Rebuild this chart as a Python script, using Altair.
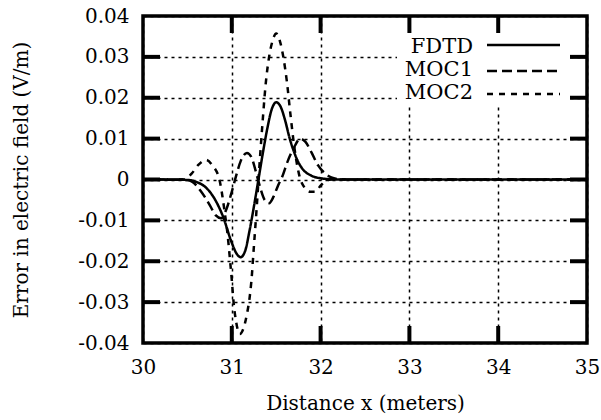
import altair as alt
import pandas as pd

# ---- data ----
fdtd_x = [30.0, 30.5, 30.6, 30.7, 30.8, 30.9, 31.0, 31.05, 31.1, 31.15, 31.2, 31.25, 31.3,
          31.35, 31.4, 31.45, 31.5, 31.55, 31.6, 31.65, 31.7, 31.75, 31.8, 31.9, 32.0, 32.1, 32.2, 35.0]
fdtd_y = [0.0, -0.0001, -0.0006, -0.0018, -0.0045, -0.009, -0.0155, -0.018, -0.019, -0.0175, -0.0125,
          -0.0065, 0.0, 0.0065, 0.0125, 0.0172, 0.0189, 0.0178, 0.0145, 0.0102, 0.0068, 0.0042,
          0.0025, 0.0009, 0.0003, 0.0001, 0.0, 0.0]

moc1_x = [30.0, 30.45, 30.55, 30.65, 30.75, 30.82, 30.88, 30.94, 31.0, 31.05, 31.1, 31.17, 31.22,
          31.27, 31.32, 31.37, 31.42, 31.47, 31.52, 31.57, 31.63, 31.7, 31.77, 31.83, 31.9, 31.97,
          32.05, 32.12, 32.2, 32.3, 35.0]
moc1_y = [0.0, 0.0, -0.0005, -0.0028, -0.0062, -0.0088, -0.0095, -0.0072, -0.003, 0.001, 0.0045,
          0.0065, 0.0055, 0.002, -0.002, -0.005, -0.0058, -0.0042, -0.0015, 0.0008, 0.0045, 0.0078,
          0.0100, 0.0092, 0.0065, 0.0035, 0.0015, 0.0005, 0.0001, 0.0, 0.0]

moc2_x = [30.0, 30.45, 30.55, 30.62, 30.71, 30.78, 30.86, 30.92, 30.95, 30.98, 31.0, 31.02, 31.05,
          31.09, 31.13, 31.17, 31.2, 31.22, 31.25, 31.28, 31.31, 31.35, 31.38, 31.42, 31.46, 31.5,
          31.54, 31.58, 31.62, 31.66, 31.71, 31.76, 31.82, 31.88, 31.94, 32.0, 32.06, 32.12, 35.0]
moc2_y = [0.0, 0.0, 0.0015, 0.0035, 0.0048, 0.0035, 0.0, -0.008, -0.013, -0.0197, -0.0246, -0.030,
          -0.035, -0.0378, -0.0365, -0.033, -0.029, -0.025, -0.016, -0.007, 0.003, 0.015, 0.023,
          0.030, 0.034, 0.0357, 0.034, 0.030, 0.024, 0.016, 0.007, 0.001, -0.002, -0.003, -0.003,
          -0.0015, -0.0003, 0.0, 0.0]

series_names = ["FDTD", "MOC1", "MOC2"]
x_ticks = [30, 31, 32, 33, 34, 35]
y_ticks = [-0.04, -0.03, -0.02, -0.01, 0.0, 0.01, 0.02, 0.03, 0.04]
x_inner_ticks = [31, 32, 33, 34]
y_inner_ticks = [-0.03, -0.02, -0.01, 0.0, 0.01, 0.02, 0.03]

FONT = "DejaVu Serif"
W, H = 444, 327
TL = 17  # inward tick length

rows = []
for name, xs, ys in zip(series_names, [fdtd_x, moc1_x, moc2_x], [fdtd_y, moc1_y, moc2_y]):
    for xv, yv in zip(xs, ys):
        rows.append({"series": name, "x": xv, "y": yv})
df = pd.DataFrame(rows)

xscale = alt.Scale(domain=[30, 35], nice=False, zero=False)
yscale = alt.Scale(domain=[-0.04, 0.04], nice=False, zero=False)

xaxis = alt.Axis(values=x_ticks, title="Distance x (meters)", labelPadding=14,
                 labelFlush=False, titlePadding=16, format="d")
yaxis = alt.Axis(values=y_ticks, title="Error in electric field (V/m)",
                 labelPadding=14, labelFlush=False,
                 labelExpr="datum.value == 0 ? '0' : (datum.value < 0 ? '-' + format(abs(datum.value), '.2f') : format(datum.value, '.2f'))",
                 titlePadding=46)

grid_layer = alt.Chart(pd.DataFrame({"x": [30.0], "y": [0.0]})).mark_point(opacity=0).encode(
    x=alt.X("x:Q", scale=xscale, axis=xaxis),
    y=alt.Y("y:Q", scale=yscale, axis=yaxis),
)

legend_bg = alt.Chart(pd.DataFrame({"k": [0]})).mark_rect(color="white").encode(
    x=alt.value(254), x2=alt.value(426), y=alt.value(17), y2=alt.value(90)
)

dash_map = alt.Scale(domain=series_names, range=[[1, 0], [10, 5], [6, 6]])

lines = alt.Chart(df).mark_line(color="black", strokeWidth=2.5, interpolate="monotone").encode(
    x=alt.X("x:Q", scale=xscale),
    y=alt.Y("y:Q", scale=yscale),
    detail="series:N",
    strokeDash=alt.StrokeDash("series:N", scale=dash_map, legend=None),
)

yt = pd.DataFrame({"x": [30.0] * len(y_inner_ticks), "y": y_inner_ticks})
xt = pd.DataFrame({"x": x_inner_ticks, "y": [0.0] * len(x_inner_ticks)})
tick_kw = dict(color="black", strokeWidth=4)
left_ticks = alt.Chart(yt).mark_rule(**tick_kw).encode(
    y=alt.Y("y:Q", scale=yscale), x=alt.value(0), x2=alt.value(TL))
right_ticks = alt.Chart(yt).mark_rule(**tick_kw).encode(
    y=alt.Y("y:Q", scale=yscale), x=alt.value(W - TL), x2=alt.value(W))
top_ticks = alt.Chart(xt).mark_rule(**tick_kw).encode(
    x=alt.X("x:Q", scale=xscale), y=alt.value(0), y2=alt.value(TL))
bottom_ticks = alt.Chart(xt).mark_rule(**tick_kw).encode(
    x=alt.X("x:Q", scale=xscale), y=alt.value(H - TL), y2=alt.value(H))

legend_layers = []
text_y = [31, 54, 77]
line_y = [29, 55, 78]
dashes = [[1, 0], [10, 5], [6, 6]]
for name, ty, ly, dsh in zip(series_names, text_y, line_y, dashes):
    one = pd.DataFrame({"series": [name]})
    legend_layers.append(
        alt.Chart(one).mark_text(align="right", baseline="middle", font=FONT, fontSize=21,
                                 color="black").encode(
            text="series:N", x=alt.value(330), y=alt.value(ty))
    )
    legend_layers.append(
        alt.Chart(one).mark_rule(color="black", strokeWidth=2.5, strokeDash=dsh).encode(
            x=alt.value(344), x2=alt.value(417), y=alt.value(ly))
    )

chart = alt.layer(
    grid_layer, legend_bg, lines, left_ticks, right_ticks, top_ticks, bottom_ticks,
    *legend_layers
).properties(
    width=W, height=H,
    autosize=alt.AutoSizeParams(type="none"),
    padding={"left": 143, "top": 16, "right": 14, "bottom": 77},
    background="white",
).configure(font=FONT).configure_axis(
    grid=True, gridColor="black", gridDash=[3, 4], gridWidth=1.5, gridOpacity=1,
    domain=False, ticks=False,
    labelFont=FONT, labelFontSize=20, labelColor="black",
    titleFont=FONT, titleFontSize=20, titleFontWeight="normal", titleColor="black",
).configure_view(stroke="black", strokeWidth=3.5)

chart.save("out.html", embed_options={"renderer": "svg", "actions": False})
